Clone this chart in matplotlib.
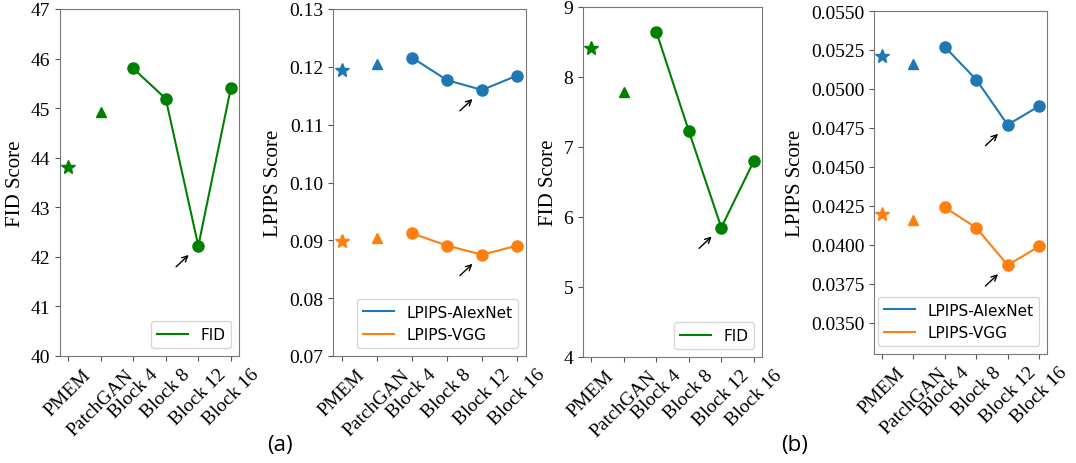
import matplotlib
matplotlib.use("Agg")
import matplotlib.pyplot as plt
from matplotlib.ticker import FormatStrFormatter

categories = ["PMEM", "PatchGAN", "Block 4", "Block 8", "Block 12", "Block 16"]

# (a)
fid_a = [43.81, 44.93, 45.80, 45.19, 42.22, 45.41]
alex_a = [0.1195, 0.1205, 0.1216, 0.1177, 0.1160, 0.1185]
vgg_a = [0.0898, 0.0904, 0.0912, 0.0891, 0.0875, 0.0891]
# (b)
fid_b = [8.42, 7.79, 8.65, 7.23, 5.85, 6.80]
alex_b = [0.0521, 0.0516, 0.0527, 0.0506, 0.0477, 0.0489]
vgg_b = [0.0420, 0.0416, 0.0424, 0.0411, 0.0387, 0.0399]

GREEN = "green"
BLUE = "#1f77b4"
ORANGE = "#ff7f0e"
SERIF = "Liberation Serif"

fig = plt.figure(figsize=(10.76, 4.64), dpi=100)

boxes = [
    (60, 239, 10, 357),
    (333, 526, 10, 357),
    (583, 762, 8, 358),
    (874, 1047, 12, 355),
]
W, H = 1076, 464
axes = []
for (l, r, t, b) in boxes:
    axes.append(fig.add_axes([l / W, 1 - b / H, (r - l) / W, (b - t) / H]))

x = list(range(len(categories)))


def draw_series(ax, vals, color, label):
    ax.plot(x[2:], vals[2:], "-", color=color, lw=1.5, label=label)
    ax.plot(x[2:], vals[2:], "o", color=color, ms=8)
    ax.plot(x[0], vals[0], "*", color=color, ms=10)
    ax.plot(x[1], vals[1], "^", color=color, ms=7)
    ax.annotate("", xy=(x[4], vals[4]), xytext=(-16, -15),
                textcoords="offset points",
                arrowprops=dict(arrowstyle="->", color="black", lw=1,
                                shrinkA=0, shrinkB=9.5))


def style(ax, ylabel, ylim, ticks, fmt):
    ax.set_ylim(*ylim)
    ax.set_yticks(ticks)
    ax.yaxis.set_major_formatter(FormatStrFormatter(fmt))
    ax.set_xticks(x)
    ax.set_xticklabels(categories, rotation=45, fontfamily=SERIF, fontsize=14)
    for lab in ax.get_yticklabels():
        lab.set_fontfamily(SERIF)
        lab.set_fontsize(14)
    ax.set_ylabel(ylabel, fontfamily=SERIF, fontsize=15)
    for s in ax.spines.values():
        s.set_color("#777777")
    ax.tick_params(colors="#555555", labelcolor="black")
    ax.legend(loc="lower right", prop={"family": "DejaVu Sans", "size": 11})


draw_series(axes[0], fid_a, GREEN, "FID")
style(axes[0], "FID Score", (40, 47), range(40, 48), "%d")

draw_series(axes[1], alex_a, BLUE, "LPIPS-AlexNet")
draw_series(axes[1], vgg_a, ORANGE, "LPIPS-VGG")
style(axes[1], "LPIPS Score", (0.07, 0.13),
      [0.07, 0.08, 0.09, 0.10, 0.11, 0.12, 0.13], "%.2f")

draw_series(axes[2], fid_b, GREEN, "FID")
style(axes[2], "FID Score", (4, 9), range(4, 10), "%d")

draw_series(axes[3], alex_b, BLUE, "LPIPS-AlexNet")
draw_series(axes[3], vgg_b, ORANGE, "LPIPS-VGG")
style(axes[3], "LPIPS Score", (0.033, 0.055),
      [0.035 + 0.0025 * i for i in range(9)], "%.4f")

fig.text(280 / W, 1 - 446 / H, "(a)", fontsize=16, fontfamily="Open Sans",
         ha="center", va="center")
fig.text(795 / W, 1 - 446 / H, "(b)", fontsize=16, fontfamily="Open Sans",
         ha="center", va="center")

fig.savefig("out.png", dpi=100)
